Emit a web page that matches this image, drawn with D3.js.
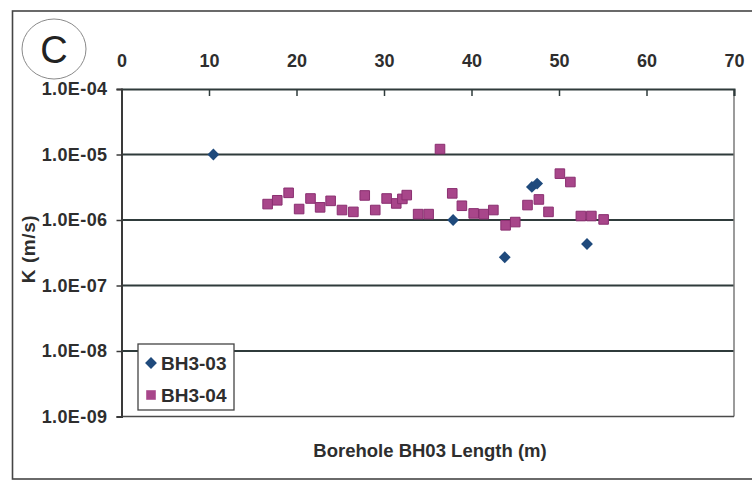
<!DOCTYPE html>
<html>
<head>
<meta charset="utf-8">
<script src="https://cdn.jsdelivr.net/npm/d3@7"></script>
<style>
  html, body { margin: 0; padding: 0; background: #fff; }
  svg { display: block; }
  text { font-family: Arial, "Liberation Sans", sans-serif; }
</style>
</head>
<body>
<svg id="chart" width="752" height="481"></svg>
<script>
// Hydraulic conductivity along borehole BH03
const xTicks = [0, 10, 20, 30, 40, 50, 60, 70];
const yTicks = [1e-4, 1e-5, 1e-6, 1e-7, 1e-8, 1e-9];
const seriesNames = ["BH3-03", "BH3-04"];

const bh303Length = [10.5, 37.9, 43.8, 46.9, 47.5, 53.2];
const bh303K = [1.0e-5, 1.0e-6, 2.7e-7, 3.2e-6, 3.6e-6, 4.3e-7];

const bh304Length = [16.7, 17.8, 19.1, 20.3, 21.6, 22.7, 23.9, 25.2, 26.5, 27.8,
  29.0, 30.3, 31.4, 32.1, 32.6, 33.9, 35.1, 36.4, 37.8, 38.9, 40.25, 41.4, 42.5,
  43.9, 45.0, 46.4, 47.7, 48.8, 50.1, 51.3, 52.5, 53.7, 55.1];
const bh304K = [1.75e-6, 2.0e-6, 2.6e-6, 1.47e-6, 2.13e-6, 1.56e-6, 1.96e-6, 1.42e-6,
  1.33e-6, 2.37e-6, 1.42e-6, 2.13e-6, 1.79e-6, 2.1e-6, 2.4e-6, 1.23e-6, 1.23e-6,
  1.21e-5, 2.55e-6, 1.65e-6, 1.26e-6, 1.23e-6, 1.42e-6, 8.3e-7, 9.3e-7, 1.69e-6,
  2.06e-6, 1.33e-6, 5.1e-6, 3.8e-6, 1.15e-6, 1.15e-6, 1.02e-6];

const svg = d3.select("#chart");
const plot = { left: 121.5, right: 734, top: 89, bottom: 416.5 };

const x = d3.scaleLinear().domain([0, 70]).range([plot.left, plot.right]);
const y = d3.scaleLog().domain([1e-9, 1e-4]).range([plot.bottom, plot.top]);

const textColor = "#2e2e2e";
const gridColor = "#2f3b3b";
const blue = "#1f4a7c";
const plum = "#a8468a";

// outer frame
svg.append("rect")
  .attr("x", 12.5).attr("y", 11).attr("width", 760).attr("height", 468)
  .attr("fill", "none").attr("stroke", "#454545").attr("stroke-width", 1.6);

// panel letter
svg.append("ellipse")
  .attr("cx", 54).attr("cy", 49).attr("rx", 32).attr("ry", 30)
  .attr("fill", "none").attr("stroke", "#8a8a8a").attr("stroke-width", 1);
svg.append("text")
  .attr("x", 54).attr("y", 50)
  .attr("text-anchor", "middle").attr("dominant-baseline", "central")
  .attr("font-size", 38).attr("fill", "#222")
  .text("C");

// horizontal decade gridlines
svg.append("g")
  .selectAll("line")
  .data(yTicks.slice(1, -1))
  .join("line")
  .attr("x1", plot.left).attr("x2", plot.right)
  .attr("y1", d => y(d)).attr("y2", d => y(d))
  .attr("stroke", gridColor).attr("stroke-width", 2);

// right plot border
svg.append("line")
  .attr("x1", plot.right).attr("x2", plot.right)
  .attr("y1", plot.top).attr("y2", plot.bottom)
  .attr("stroke", "#7a7a7a").attr("stroke-width", 1.5);
// bottom plot border
svg.append("line")
  .attr("x1", plot.left).attr("x2", plot.right)
  .attr("y1", plot.bottom).attr("y2", plot.bottom)
  .attr("stroke", "#4a4a4a").attr("stroke-width", 1.6);

// top x axis, ticks pointing into the plot
const xAxis = svg.append("g")
  .attr("transform", `translate(0,${plot.top})`)
  .call(d3.axisTop(x).tickValues(xTicks).tickSize(-7).tickPadding(22).tickFormat(d3.format("d")));
xAxis.select(".domain").attr("stroke", gridColor).attr("stroke-width", 2);
xAxis.selectAll(".tick line").attr("stroke", gridColor).attr("stroke-width", 1.5);
xAxis.selectAll(".tick text")
  .attr("font-size", 18).attr("font-weight", "bold").attr("fill", textColor)
  .attr("font-family", "Arial, 'Liberation Sans', sans-serif");

// left y axis, log scale
const fmtK = d => {
  const e = Math.round(Math.log10(d));
  return "1.0E" + (e < 0 ? "-" : "+") + String(Math.abs(e)).padStart(2, "0");
};
const yAxis = svg.append("g")
  .attr("transform", `translate(${plot.left},0)`)
  .call(d3.axisLeft(y).tickValues(yTicks).tickSize(5).tickPadding(9).tickFormat(fmtK));
yAxis.select(".domain").attr("stroke", "#3a3a3a").attr("stroke-width", 2);
yAxis.selectAll(".tick line").attr("stroke", "#3a3a3a").attr("stroke-width", 1.5);
yAxis.selectAll(".tick text")
  .attr("font-size", 18).attr("font-weight", "bold").attr("fill", textColor)
  .attr("letter-spacing", 0.4)
  .attr("font-family", "Arial, 'Liberation Sans', sans-serif");

// axis titles
svg.append("text")
  .attr("transform", "translate(35,249) rotate(-90)")
  .attr("text-anchor", "middle")
  .attr("font-size", 19).attr("font-weight", "bold").attr("fill", textColor)
  .attr("letter-spacing", 0.6)
  .text("K (m/s)");
svg.append("text")
  .attr("x", 430).attr("y", 457)
  .attr("text-anchor", "middle")
  .attr("font-size", 18.5).attr("font-weight", "bold").attr("fill", textColor)
  .text("Borehole BH03 Length (m)");

// markers
const diamond = d3.symbol().type(d3.symbolSquare).size(70);
const square = d3.symbol().type(d3.symbolSquare).size(92);

const bh304 = bh304Length.map((v, i) => ({ x: v, k: bh304K[i] }));
const bh303 = bh303Length.map((v, i) => ({ x: v, k: bh303K[i] }));

svg.append("g").selectAll("path")
  .data(bh304)
  .join("path")
  .attr("d", square)
  .attr("transform", d => `translate(${x(d.x)},${y(d.k)})`)
  .attr("fill", plum).attr("stroke", "#8a2f70").attr("stroke-width", 1);

svg.append("g").selectAll("path")
  .data(bh303)
  .join("path")
  .attr("d", diamond)
  .attr("transform", d => `translate(${x(d.x)},${y(d.k)}) rotate(45)`)
  .attr("fill", blue);

// legend
const legend = svg.append("g").attr("transform", "translate(138,344)");
legend.append("rect")
  .attr("width", 96).attr("height", 66)
  .attr("fill", "#fff").attr("stroke", "#444").attr("stroke-width", 1.3);
const entries = [
  { name: seriesNames[0], sym: diamond, color: blue, rot: 45, cy: 19 },
  { name: seriesNames[1], sym: square, color: plum, rot: 0, cy: 51 }
];
entries.forEach(e => {
  legend.append("path")
    .attr("d", e.sym)
    .attr("transform", `translate(13,${e.cy}) rotate(${e.rot})`)
    .attr("fill", e.color);
  legend.append("text")
    .attr("x", 23).attr("y", e.cy)
    .attr("dominant-baseline", "central")
    .attr("font-size", 19).attr("font-weight", "bold").attr("fill", textColor)
    .text(e.name);
});
</script>
</body>
</html>
